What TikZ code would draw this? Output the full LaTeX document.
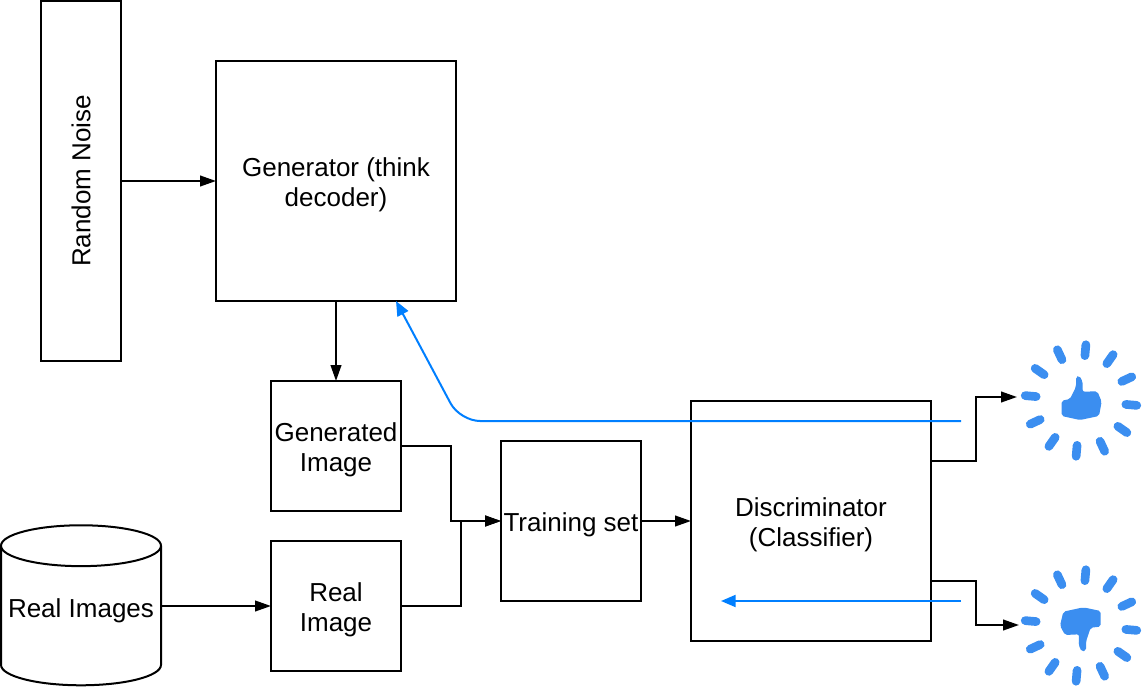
\documentclass[tikz,border=0pt]{standalone}
\usepackage{fontspec}
\setmainfont{Liberation Sans}
\usetikzlibrary{arrows.meta,shapes.geometric}
\definecolor{fbblue}{HTML}{007FFF}
\definecolor{iconblue}{HTML}{3B8EF0}
\newcommand{\lowr}{\rule{0pt}{20pt}}
\tikzset{
    box/.style={draw,line width=1.5pt,inner sep=0pt,outer sep=0pt,align=center,font=\fontsize{19.5}{22.5}\selectfont},
    conn/.style={line width=1.5pt,-{Triangle[length=12pt,width=8pt]}},
    feedback/.style={conn,fbblue,-{Triangle[length=11pt,width=9pt]}},
    tick/.style={iconblue,line width=6.5pt,line cap=round},
    hand/.style={fill=iconblue,rounded corners=1.5pt}
}
\begin{document}
\begin{tikzpicture}[x=0.75pt,y=-0.75pt]
    \useasboundingbox (0,0) rectangle (1142,688);
    \node[box,rotate=90,minimum width=270pt,minimum height=60pt] (noise) at (81,181) {Random Noise};
    \node[box,minimum width=180pt,minimum height=180pt] (gen) at (336,181) {\lowr Generator (think\\decoder)};
    \node[box,minimum width=97.5pt,minimum height=97.5pt] (genimg) at (336,446) {\lowr Generated\\Image};
    \node[box,minimum width=97.5pt,minimum height=97.5pt] (realimg) at (336,606) {\lowr Real\\Image};
    \node[box,minimum width=105pt,minimum height=120pt] (train) at (571,521) {\lowr Training set};
    \node[box,minimum width=180pt,minimum height=180pt] (disc) at (811,521) {\lowr Discriminator\\(Classifier)};
    \node[box,cylinder,shape border rotate=90,aspect=0.28,minimum width=120pt,minimum height=120pt] (real) at (81,616) {\rule[-17.5pt]{0pt}{36.5pt}Real Images};

    \coordinate (up) at (1017,397);
    \coordinate (down) at (1019,625);
    \coordinate (discup) at (931,461);
    \coordinate (discdown) at (931,581);
    \coordinate (fbstart) at (961,421);
    \coordinate (fbturn) at (460,421);
    \coordinate (fbend) at (396,301);
    \coordinate (fbstartb) at (961,601);
    \coordinate (fbendb) at (721,601);

    \draw[conn] (noise.south |- gen.west) -- (gen.west);
    \draw[conn] (gen.south) -- (genimg.north);
    \draw[conn] (real.east |- realimg.west) -- (realimg.west);
    \draw[conn] (genimg.east) -- (451,446) -- (451,521) -- (train.west);
    \draw[conn] (realimg.east) -- (461,606) -- (461,521) -- (train.west);
    \draw[conn] (train.east) -- (disc.west);
    \draw[conn] (discup) -- (976,461) -- (976,397) -- (up);
    \draw[conn] (discdown) -- (976,581) -- (976,625) -- (down);
    \draw[feedback,rounded corners=15pt] (fbstart) -- (fbturn) -- (fbend);
    \draw[feedback] (fbstartb) -- (fbendb);

    \foreach \cy in {400.5,625.5}
    {
        \foreach \a in {0,30,...,330}
            \draw[tick] ({1081+45*cos(\a+5)},{\cy+45*sin(\a+5)}) -- ({1081+56*cos(\a+5)},{\cy+56*sin(\a+5)});
    }
    \begin{scope}[shift={(1000,330)},x=0.25pt,y=-0.25pt]
        \fill[hand] (185,212)--(210,207)--(228,170)--(228,140)--(238,137)--(248,155)--(248,185)--(292,184)--(305,215)--(297,258)--(240,270)--(185,258)--cycle;
    \end{scope}
    \begin{scope}[shift={(1000,555)},x=0.25pt,y=-0.25pt]
        \fill[hand] (190,170)--(250,157)--(302,168)--(302,215)--(272,218)--(258,260)--(258,287)--(245,290)--(236,270)--(237,238)--(195,240)--(180,212)--cycle;
    \end{scope}
\end{tikzpicture}
\end{document}
